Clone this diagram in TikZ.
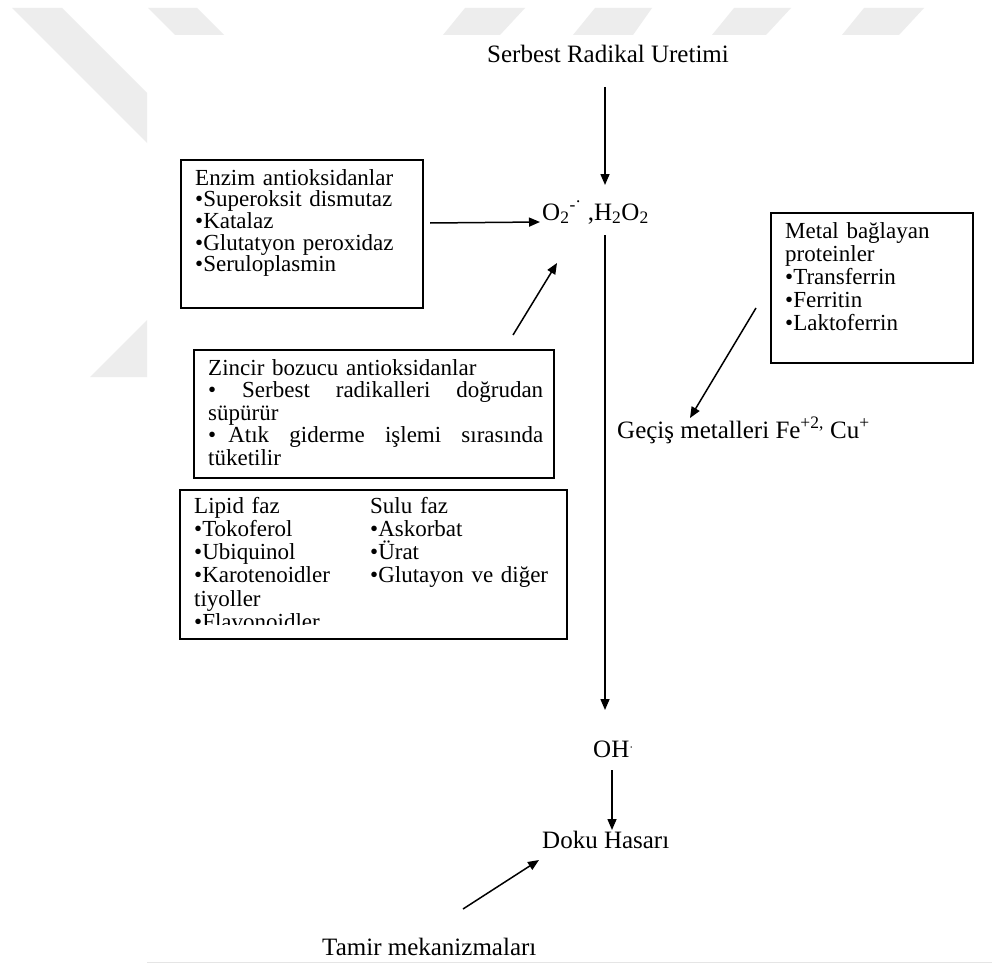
\documentclass[tikz,border=0pt]{standalone}
\usepackage{fontspec}
\setmainfont{Liberation Serif}
\usetikzlibrary{arrows.meta}
\tikzset{
  lbl/.style={font=\fontsize{25}{27}\selectfont, inner sep=0, anchor=base west},
  boxtxt/.style={font=\fontsize{23}{#1}\selectfont, inner sep=0, anchor=base west, align=left},
  frame/.style={draw, line width=1.6pt, inner sep=0, anchor=north west},
  arr/.style={line width=1.5pt, -{Triangle[length=11pt,width=9pt]}},
  wm/.style={fill=black!7, draw=none}
}
\begin{document}
\begin{tikzpicture}[x=1pt,y=-1pt]
\useasboundingbox[fill=white] (0,0) rectangle (992,971);
% watermark
\fill[wm] (12,8) -- (62,8) -- (147,93) -- (147,143) -- cycle;
\fill[wm] (148,8) -- (197,8) -- (224,35) -- (175,35) -- cycle;
\fill[wm] (465,8) -- (525,8) -- (500,35) -- (443,35) -- cycle;
\fill[wm] (595,8) -- (652,8) -- (633,35) -- (573,35) -- cycle;
\fill[wm] (734,8) -- (791,8) -- (766,35) -- (712,35) -- cycle;
\fill[wm] (864,8) -- (924,8) -- (899,35) -- (842,35) -- cycle;
\fill[wm] (147,320) -- (147,377) -- (90,377) -- cycle;
\draw[black!10, line width=1pt] (147,962) -- (992,962);

% labels
\node[lbl] (src) at (487,63) {Serbest Radikal Uretimi};
\node[lbl] (ros) at (542,220) {O\textsubscript{2}\textsuperscript{-\raisebox{3pt}{·}} ,H\textsubscript{2}O\textsubscript{2}};
\node[lbl] (gec) at (617,438) {Geçiş metalleri Fe\textsuperscript{+2,} Cu\textsuperscript{+}};
\node[lbl] (oh) at (593,757) {OH\raisebox{6pt}{\fontsize{12}{12}\selectfont·}};
\node[lbl] (doku) at (542,848) {Doku Hasarı};
\node[lbl] (tamir) at (322,955) {Tamir mekanizmaları};

% boxes
\node[frame, minimum width=242pt, minimum height=148pt] (b1) at (180,159) {};
\node[boxtxt=21.7, text width=225pt] (t1) at (195,185)
  {Enzim antioksidanlar\\•Superoksit dismutaz\\•Katalaz\\•Glutatyon peroxidaz\\•Seruloplasmin};

\node[frame, minimum width=202pt, minimum height=150pt] (bm) at (770,212) {};
\node[boxtxt=23, text width=185pt] (tm) at (785,238)
  {Metal bağlayan\\proteinler\\•Transferrin\\•Ferritin\\•Laktoferrin};

\node[frame, minimum width=360pt, minimum height=128pt] (bz) at (193,349) {};
\node[boxtxt=22.5, text width=335pt] (tz) at (208,375)
  {Zincir bozucu antioksidanlar\\
   \leavevmode\hbox to 335pt{•\hfill Serbest\hfill radikalleri\hfill doğrudan}\\
   süpürür\\
   \leavevmode\hbox to 335pt{•\hskip 0pt plus 0.6fill Atık\hfill giderme\hfill işlemi\hfill sırasında}\\
   tüketilir};

\node[frame, minimum width=387pt, minimum height=149pt] (bl) at (179,489) {};
\begin{scope}
\clip (179,489) rectangle (566,624);
\node[boxtxt=23.3, text width=170pt] (tl) at (194,513)
  {Lipid faz\\•Tokoferol\\•Ubiquinol\\•Karotenoidler\\tiyoller\\•Flavonoidler};
\end{scope}
\node[boxtxt=23.3, text width=185pt] (tr) at (370,513)
  {Sulu faz\\•Askorbat\\•Ürat\\•Glutayon ve diğer};

% connector ends
\coordinate (a1s) at (605,87);   \coordinate (a1e) at (605,185);
\coordinate (a2s) at (430,223);  \coordinate (a2e) at (540,222);
\coordinate (a3s) at (605,235);  \coordinate (a3e) at (605,710);
\coordinate (a4s) at (756,308);  \coordinate (a4e) at (690,418);
\coordinate (a5s) at (513,335);  \coordinate (a5e) at (557,263);
\coordinate (a6s) at (612,770);  \coordinate (a6e) at (612,830);
\coordinate (a7s) at (463,909);  \coordinate (a7e) at (539,860);

\draw[arr] (a1s) -- (a1e);
\draw[arr] (a2s) -- (a2e);
\draw[arr] (a3s) -- (a3e);
\draw[arr] (a4s) -- (a4e);
\draw[arr] (a5s) -- (a5e);
\draw[arr] (a6s) -- (a6e);
\draw[arr] (a7s) -- (a7e);
\end{tikzpicture}
\end{document}
